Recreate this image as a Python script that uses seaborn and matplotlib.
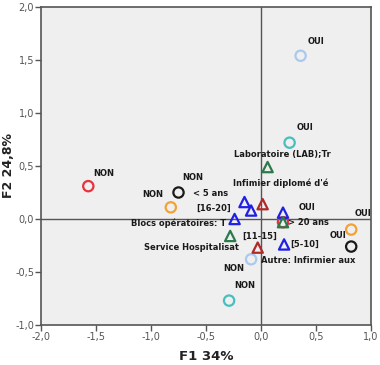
import matplotlib
matplotlib.use("Agg")
import matplotlib.pyplot as plt
import seaborn as sns
import pandas as pd

# ---- data ----
red_circle_x = [-1.57, 0.20]
red_circle_y = [0.31, -0.03]
orange_circle_x = [-0.82, 0.82]
orange_circle_y = [0.11, -0.10]
black_circle_x = [-0.75, 0.82]
black_circle_y = [0.25, -0.26]
lightblue_circle_x = [0.36, -0.09]
lightblue_circle_y = [1.54, -0.38]
teal_circle_x = [0.26, -0.29]
teal_circle_y = [0.72, -0.77]
blue_tri_x = [-0.15, -0.09, -0.24, 0.20, 0.21]
blue_tri_y = [0.16, 0.08, 0.00, 0.06, -0.24]
green_tri_x = [0.06, -0.28, 0.20]
green_tri_y = [0.49, -0.16, -0.03]
darkred_tri_x = [0.015, -0.03]
darkred_tri_y = [0.14, -0.27]

label_text = ["NON", "NON", "NON", "< 5 ans", "[16-20]", "Blocs opératoires: T",
              "Service Hospitalisat", "[11-15]", "Infimier diplomé d'é",
              "Laboratoire (LAB);Tr", "OUI", "OUI", "OUI", "> 20 ans", "OUI",
              "OUI", "[5-10]", "Autre: Infirmier aux", "NON", "NON"]
label_x = [-1.43, -0.98, -0.62, -0.46, -0.43, -0.75, -0.63, -0.01, 0.18, 0.19,
           0.50, 0.40, 0.42, 0.43, 0.93, 0.70, 0.40, 0.43, -0.25, -0.15]
label_y = [0.43, 0.23, 0.39, 0.24, 0.10, -0.04, -0.27, -0.16, 0.34, 0.61,
           1.67, 0.86, 0.11, -0.03, 0.05, -0.16, -0.24, -0.39, -0.47, -0.63]

x_ticks = [-2.0, -1.5, -1.0, -0.5, 0.0, 0.5, 1.0]
y_ticks = [-1.0, -0.5, 0.0, 0.5, 1.0, 1.5, 2.0]
x_label = "F1 34%"
y_label = "F2 24,8%"

groups = [
    (red_circle_x, red_circle_y, "o", "#e8323f"),
    (orange_circle_x, orange_circle_y, "o", "#f2a236"),
    (black_circle_x, black_circle_y, "o", "#1a1a1a"),
    (lightblue_circle_x, lightblue_circle_y, "o", "#a9c9ee"),
    (teal_circle_x, teal_circle_y, "o", "#45c0be"),
    (blue_tri_x, blue_tri_y, "^", "#1f1fe8"),
    (green_tri_x, green_tri_y, "^", "#2a7a4c"),
    (darkred_tri_x, darkred_tri_y, "^", "#b02a2a"),
]

sns.set_theme(style="white")
plt.rcParams["font.family"] = ["DejaVu Sans"]

fig = plt.figure(figsize=(3.8, 3.65), dpi=100)
ax = fig.add_axes([41 / 380, 40 / 365, 330 / 380, 318 / 365])
ax.set_facecolor("#efefef")

ax.axvline(0, color="#555555", lw=1.0, zorder=1)
ax.axhline(0, color="#555555", lw=1.0, zorder=1)

for gx, gy, m, c in groups:
    df = pd.DataFrame({"x": gx, "y": gy})
    sns.scatterplot(data=df, x="x", y="y", ax=ax, marker=m, s=55,
                    facecolor="none", edgecolor=c, linewidth=1.6, zorder=3)

for t, lx, ly in zip(label_text, label_x, label_y):
    ax.text(lx, ly, t, ha="center", va="center", fontsize=6,
            fontweight="bold", color="#1a1a1a", zorder=4, clip_on=True)

ax.set_xlim(-2.0, 1.0)
ax.set_ylim(-1.0, 2.0)
ax.set_xticks(x_ticks)
ax.set_yticks(y_ticks)
ax.set_xticklabels([f"{v:.1f}".replace(".", ",") for v in x_ticks])
ax.set_yticklabels([f"{v:.1f}".replace(".", ",") for v in y_ticks])
ax.tick_params(axis="both", which="major", direction="out", length=4,
               width=1, color="#555555", labelsize=7, labelcolor="#555555",
               pad=1, bottom=True, left=True)
for sp in ax.spines.values():
    sp.set_color("#555555")
    sp.set_linewidth(1.2)

ax.set_xlabel(x_label, fontsize=9.5, fontweight="bold", color="#222222", labelpad=6)
ax.set_ylabel(y_label, fontsize=9, fontweight="bold", color="#222222")
ax.yaxis.set_label_coords(-0.078, 0.5)

fig.savefig("out.png", dpi=100)
